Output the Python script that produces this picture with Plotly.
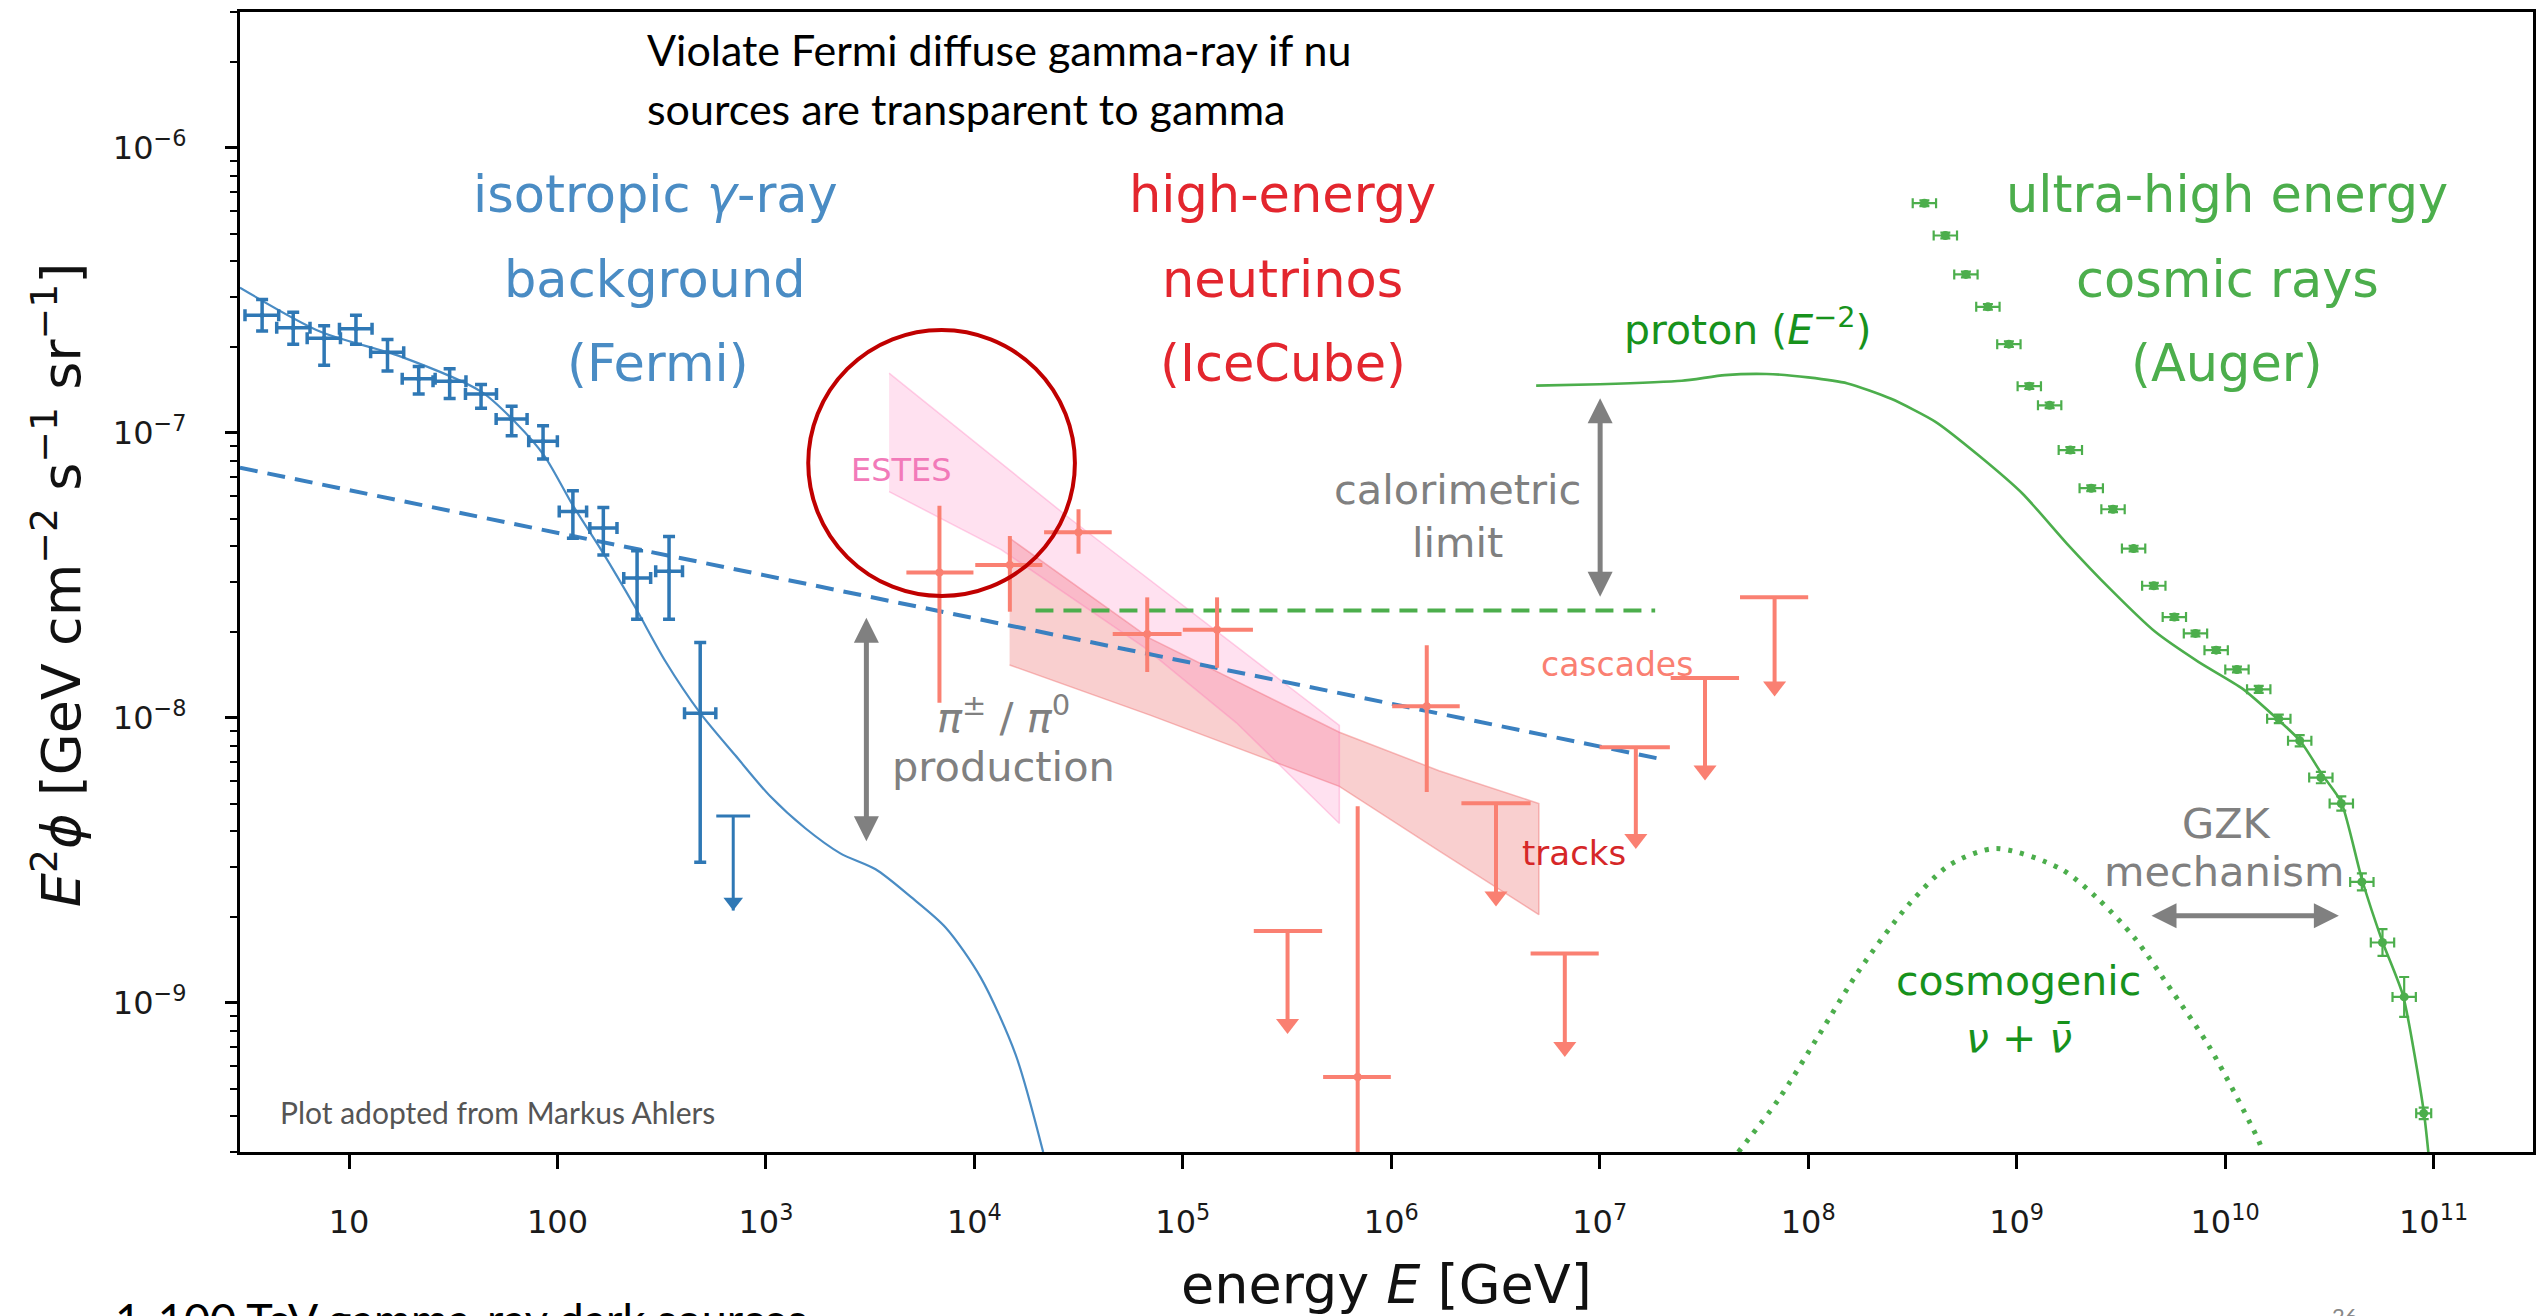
import numpy as np
import plotly.graph_objects as go

# ---------------- data ----------------
# Fermi isotropic gamma-ray background: E [GeV], E^2 phi [GeV cm^-2 s^-1 sr^-1]
fermi_E = [3.83, 5.4, 7.6, 10.8, 15.3, 21.6, 30.4, 43.0, 60.3, 85.3, 118.6, 166.0, 241.0, 343.0, 484.0]
fermi_F = [2.59e-7, 2.34e-7, 2.15e-7, 2.32e-7, 1.92e-7, 1.55e-7, 1.52e-7, 1.37e-7, 1.12e-7, 9.35e-8,
           5.3e-8, 4.64e-8, 3.1e-8, 3.27e-8, 1.04e-8]
fermi_F_lo = [2.28e-7, 2.05e-7, 1.73e-7, 2.05e-7, 1.65e-7, 1.37e-7, 1.32e-7, 1.22e-7, 9.77e-8, 8.11e-8,
              4.27e-8, 3.73e-8, 2.22e-8, 2.22e-8, 3.12e-9]
fermi_F_hi = [2.94e-7, 2.65e-7, 2.38e-7, 2.59e-7, 2.13e-7, 1.71e-7, 1.68e-7, 1.48e-7, 1.24e-7, 1.06e-7,
              6.27e-8, 5.48e-8, 3.86e-8, 4.33e-8, 1.84e-8]
fermi_E_lo = [3.17, 4.5, 6.3, 9.0, 12.7, 18.0, 25.3, 36.2, 50.8, 72.8, 102.0, 143.0, 208.0, 296.0, 407.0]
fermi_E_hi = [4.6, 6.5, 9.1, 12.9, 18.3, 25.9, 36.4, 51.0, 71.5, 99.9, 138.0, 193.0, 280.0, 398.0, 575.0]
fermi_ul_E = [697.0]
fermi_ul_cap = [4.53e-9]
fermi_ul_tip = [2.11e-9]
fermi_ul_E_lo = [578.0]
fermi_ul_E_hi = [840.0]

# Fermi model curve (log10 E, log10 E^2 phi)
fermi_model_logE = [0.477, 0.864, 1.249, 1.634, 1.80, 1.937, 2.074, 2.212, 2.377, 2.517, 2.685, 2.853,
                    3.021, 3.189, 3.357, 3.526, 3.694, 3.862, 4.03, 4.198, 4.33]
fermi_model_logF = [-6.49, -6.645, -6.732, -6.855, -6.964, -7.08, -7.254, -7.413, -7.617, -7.80, -7.983,
                    -8.131, -8.275, -8.387, -8.475, -8.531, -8.627, -8.735, -8.91, -9.181, -9.523]

# pion-production (dashed blue) line
pion_logE = [0.477, 7.30]
pion_logF = [-7.122, -8.145]

# calorimetric limit (dashed green) line
calor_logE = [4.293, 7.266]
calor_logF = [-7.623, -7.623]

# proton (E^-2) model
proton_logE = [6.695, 7.0, 7.394, 7.6, 7.8, 8.0, 8.189, 8.398, 8.609, 8.82, 9.03, 9.241, 9.451, 9.662,
               9.872, 10.083, 10.25, 10.36, 10.467, 10.557, 10.656, 10.755, 10.854, 10.953, 10.975]
proton_logF = [-6.834, -6.829, -6.817, -6.797, -6.793, -6.805, -6.826, -6.88, -6.96, -7.08, -7.214, -7.388,
               -7.549, -7.696, -7.803, -7.897, -8.003, -8.08, -8.2, -8.295, -8.565, -8.785, -8.975, -9.38, -9.523]

# cosmogenic neutrinos (dotted)
cosmo_logE = [7.665, 7.859, 8.053, 8.246, 8.48, 8.68, 8.90, 9.208, 9.388, 9.567, 9.747, 9.928, 10.162, 10.18]
cosmo_logF = [-9.523, -9.337, -9.111, -8.884, -8.657, -8.515, -8.458, -8.528, -8.633, -8.773, -8.96,
              -9.158, -9.485, -9.523]

# Auger UHECR spectrum
auger_E = [3.61e8, 4.55e8, 5.71e8, 7.28e8, 9.18e8, 1.15e9, 1.44e9, 1.81e9, 2.28e9, 2.90e9, 3.64e9, 4.55e9,
           5.71e9, 7.21e9, 9.06e9, 1.14e10, 1.45e10, 1.81e10, 2.28e10, 2.88e10, 3.61e10, 4.53e10, 5.69e10,
           7.23e10, 8.97e10]
auger_F = [6.40e-7, 4.93e-7, 3.60e-7, 2.77e-7, 2.05e-7, 1.46e-7, 1.25e-7, 8.71e-8, 6.40e-8, 5.40e-8, 3.93e-8,
           2.91e-8, 2.26e-8, 1.98e-8, 1.73e-8, 1.48e-8, 1.26e-8, 9.93e-9, 8.32e-9, 6.18e-9, 5.01e-9, 2.66e-9,
           1.63e-9, 1.05e-9, 4.10e-10]
auger_F_err_dex = [0.01, 0.01, 0.01, 0.01, 0.01, 0.01, 0.01, 0.01, 0.01, 0.01, 0.01, 0.01, 0.01, 0.01, 0.01,
                   0.01, 0.012, 0.015, 0.02, 0.02, 0.025, 0.03, 0.047, 0.07, 0.02]
auger_E_err_dex = [0.056, 0.056, 0.056, 0.056, 0.056, 0.056, 0.056, 0.056, 0.056, 0.056, 0.056, 0.056, 0.056,
                   0.056, 0.056, 0.056, 0.056, 0.056, 0.056, 0.056, 0.056, 0.056, 0.056, 0.056, 0.036]

# IceCube cascades (data points)
ic_E = [6.8e3, 1.48e4, 3.16e4, 6.75e4, 1.46e5, 6.9e5, 1.48e6]
ic_F = [3.24e-8, 3.44e-8, 4.48e-8, 1.97e-8, 2.04e-8, 5.5e-10, 1.1e-8]
ic_F_lo = [1.13e-8, 2.36e-8, 3.77e-8, 1.45e-8, 1.5e-8, 1.0e-10, 5.5e-9]
ic_F_hi = [5.56e-8, 4.35e-8, 5.4e-8, 2.65e-8, 2.65e-8, 4.9e-9, 1.8e-8]
ic_E_lo = [4.72e3, 1.01e4, 2.16e4, 4.61e4, 1.0e5, 4.71e5, 1.01e6]
ic_E_hi = [9.9e3, 2.12e4, 4.56e4, 9.86e4, 2.17e5, 9.95e5, 2.13e6]

# IceCube cascades (upper limits)
ul_E = [3.18e5, 3.18e6, 6.8e6, 1.49e7, 3.2e7, 6.9e7]
ul_cap = [1.79e-9, 5.02e-9, 1.49e-9, 7.9e-9, 1.38e-8, 2.65e-8]
ul_tip = [7.78e-10, 2.18e-9, 6.46e-10, 3.47e-9, 6.04e-9, 1.19e-8]
ul_E_lo = [2.19e5, 2.17e6, 4.66e6, 9.98e6, 2.19e7, 4.71e7]
ul_E_hi = [4.66e5, 4.66e6, 9.89e6, 2.17e7, 4.66e7, 1.0e8]

# IceCube tracks band (log10 values)
tracks_top_logE = [4.169, 4.84, 5.751, 6.229, 6.708]
tracks_top_logF = [-7.369, -7.72, -8.05, -8.185, -8.30]
tracks_bot_logE = [4.169, 4.843, 5.751, 6.229, 6.708]
tracks_bot_logF = [-7.814, -7.99, -8.24, -8.466, -8.69]

# ESTES band (log10 values)
estes_top_logE = [3.591, 4.458, 5.751]
estes_top_logF = [-6.79, -7.30, -8.026]
estes_bot_logE = [3.591, 4.128, 4.815, 5.257, 5.751]
estes_bot_logF = [-7.206, -7.409, -7.752, -8.017, -8.37]

# gray double arrows (log10 values): [x0, y0, x1, y1]
arrow_pion = [3.482, -7.648, 3.482, -8.438]
arrow_calor = [7.002, -6.878, 7.002, -7.58]
arrow_gzk = [9.647, -8.694, 10.553, -8.694]

# axis ticks
x_tickvals = [1e1, 1e2, 1e3, 1e4, 1e5, 1e6, 1e7, 1e8, 1e9, 1e10, 1e11]
x_ticktext = ["10", "100", "10<sup>3</sup>", "10<sup>4</sup>", "10<sup>5</sup>", "10<sup>6</sup>",
              "10<sup>7</sup>", "10<sup>8</sup>", "10<sup>9</sup>", "10<sup>10</sup>", "10<sup>11</sup>"]
y_tickvals = [1e-9, 1e-8, 1e-7, 1e-6]
y_ticktext = ["10<sup>−9</sup>", "10<sup>−8</sup>", "10<sup>−7</sup>", "10<sup>−6</sup>"]

# ---------------- styles ----------------
BLUE = "#2f78b5"
BLUE_TXT = "#4a8cc4"
SALMON = "#fa8072"
RED = "#e3262e"
GREEN = "#4cae4c"
DGREEN = "#17921c"
GRAY = "#808080"
DJ = "DejaVu Sans"
SL = "Lato"

W, H = 2539, 1316
X0, X1, Y0, Y1 = 240, 2536, 12, 1152


def px(X):
    return (X - X0) / (X1 - X0)


def py(Y):
    return (Y1 - Y) / (Y1 - Y0)


def pw(v):
    return [10 ** a for a in v]


fig = go.Figure()

# bands
tx = pw(tracks_top_logE + tracks_bot_logE[::-1])
ty = pw(tracks_top_logF + tracks_bot_logF[::-1])
fig.add_trace(go.Scatter(x=tx, y=ty, mode="lines", fill="toself", fillcolor="rgba(240,128,128,0.38)",
                         line=dict(color="rgba(240,110,110,0.45)", width=1.5), hoverinfo="skip"))
ex = pw(estes_top_logE + estes_bot_logE[::-1])
ey = pw(estes_top_logF + estes_bot_logF[::-1])
fig.add_trace(go.Scatter(x=ex, y=ey, mode="lines", fill="toself", fillcolor="rgba(255,105,180,0.2)",
                         line=dict(color="rgba(255,105,180,0.3)", width=1.5), hoverinfo="skip"))

# model lines
fig.add_trace(go.Scatter(x=pw(fermi_model_logE), y=pw(fermi_model_logF), mode="lines",
                         line=dict(color="#4a8cc4", width=2.2, shape="spline", smoothing=0.8)))
fig.add_trace(go.Scatter(x=pw(pion_logE), y=pw(pion_logF), mode="lines",
                         line=dict(color="#3a80c0", width=4, dash="18px,10px")))
fig.add_trace(go.Scatter(x=pw(calor_logE), y=pw(calor_logF), mode="lines",
                         line=dict(color=GREEN, width=4, dash="18px,10px")))
fig.add_trace(go.Scatter(x=pw(proton_logE), y=pw(proton_logF), mode="lines",
                         line=dict(color=GREEN, width=2.6, shape="spline", smoothing=0.6)))
fig.add_trace(go.Scatter(x=pw(cosmo_logE), y=pw(cosmo_logF), mode="lines",
                         line=dict(color=GREEN, width=5, dash="4px,8px", shape="spline", smoothing=0.8)))

# Fermi data
fig.add_trace(go.Scatter(
    x=fermi_E, y=fermi_F, mode="markers",
    marker=dict(color=BLUE, size=5),
    error_x=dict(type="data", symmetric=False,
                 array=[h - e for h, e in zip(fermi_E_hi, fermi_E)],
                 arrayminus=[e - l for e, l in zip(fermi_E, fermi_E_lo)],
                 color=BLUE, thickness=3.5, width=6),
    error_y=dict(type="data", symmetric=False,
                 array=[h - f for h, f in zip(fermi_F_hi, fermi_F)],
                 arrayminus=[f - l for f, l in zip(fermi_F, fermi_F_lo)],
                 color=BLUE, thickness=3.5, width=6)))

# Fermi upper limit
fx, fy = [], []
for e, lo, hi, c, t in zip(fermi_ul_E, fermi_ul_E_lo, fermi_ul_E_hi, fermi_ul_cap, fermi_ul_tip):
    fx += [lo, hi, None, e, e, None]
    fy += [c, c, None, c, t, None]
fig.add_trace(go.Scatter(x=fx, y=fy, mode="lines", line=dict(color=BLUE, width=3)))
fig.add_trace(go.Scatter(x=fermi_ul_E, y=[t * 10 ** 0.03 for t in fermi_ul_tip], mode="markers",
                         marker=dict(symbol="triangle-down", size=17, color=BLUE, line=dict(width=0))))

# IceCube cascades data
fig.add_trace(go.Scatter(
    x=ic_E, y=ic_F, mode="markers",
    marker=dict(color=SALMON, size=8),
    error_x=dict(type="data", symmetric=False,
                 array=[h - e for h, e in zip(ic_E_hi, ic_E)],
                 arrayminus=[e - l for e, l in zip(ic_E, ic_E_lo)],
                 color=SALMON, thickness=4, width=0),
    error_y=dict(type="data", symmetric=False,
                 array=[h - f for h, f in zip(ic_F_hi, ic_F)],
                 arrayminus=[f - l for f, l in zip(ic_F, ic_F_lo)],
                 color=SALMON, thickness=4, width=0)))

# IceCube upper limits
ux, uy = [], []
for e, lo, hi, c, t in zip(ul_E, ul_E_lo, ul_E_hi, ul_cap, ul_tip):
    ux += [lo, hi, None, e, e, None]
    uy += [c, c, None, c, t * 10 ** 0.03, None]
fig.add_trace(go.Scatter(x=ux, y=uy, mode="lines", line=dict(color=SALMON, width=4)))
fig.add_trace(go.Scatter(x=ul_E, y=[t * 10 ** 0.035 for t in ul_tip], mode="markers",
                         marker=dict(symbol="triangle-down", size=20, color=SALMON, line=dict(width=0))))

# Auger data
fig.add_trace(go.Scatter(
    x=auger_E, y=auger_F, mode="markers",
    marker=dict(color=GREEN, size=9),
    error_x=dict(type="data", symmetric=False,
                 array=[e * (10 ** d - 1) for e, d in zip(auger_E, auger_E_err_dex)],
                 arrayminus=[e * (1 - 10 ** -d) for e, d in zip(auger_E, auger_E_err_dex)],
                 color=GREEN, thickness=2.2, width=5),
    error_y=dict(type="data", symmetric=False,
                 array=[f * (10 ** d - 1) for f, d in zip(auger_F, auger_F_err_dex)],
                 arrayminus=[f * (1 - 10 ** -d) for f, d in zip(auger_F, auger_F_err_dex)],
                 color=GREEN, thickness=2.2, width=5)))

annotations = []


def txt(text, X, Y, size, color, family=DJ, xanchor="center", yanchor="middle", angle=0):
    annotations.append(dict(text=text, x=px(X), y=py(Y), xref="paper", yref="paper", showarrow=False,
                            xanchor=xanchor, yanchor=yanchor, textangle=angle,
                            font=dict(size=size, color=color, family=family)))


# gray double arrows
for a in (arrow_pion, arrow_calor, arrow_gzk):
    annotations.append(dict(x=a[0], y=a[1], ax=a[2], ay=a[3], xref="x", yref="y", axref="x", ayref="y",
                            text="", showarrow=True, arrowhead=2, startarrowhead=2, arrowside="end+start",
                            arrowsize=1, startarrowsize=1, arrowwidth=5, arrowcolor=GRAY))

txt("Violate Fermi diffuse gamma-ray if nu", 646, 50, 43, "#000000", SL, xanchor="left")
txt("sources are transparent to gamma", 646, 108, 43, "#000000", SL, xanchor="left")

txt("isotropic <i>γ</i>-ray", 656, 194, 51, BLUE_TXT)
txt("background", 656, 280, 51, BLUE_TXT)
txt("(Fermi)", 659, 364, 51, BLUE_TXT)

txt("high-energy", 1284, 194, 51, RED)
txt("neutrinos", 1284, 280, 51, RED)
txt("(IceCube)", 1284, 364, 51, RED)

txt("ultra-high energy", 2230, 194, 51, GREEN)
txt("cosmic rays", 2230, 280, 51, GREEN)
txt("(Auger)", 2230, 364, 51, GREEN)

txt("proton (<i>E</i><sup>−2</sup>)", 1749, 327, 41, DGREEN)
txt("calorimetric", 1459, 490, 41.5, GRAY)
txt("limit", 1459, 542, 41.5, GRAY)
txt("<i>π</i><sup>±</sup> / <i>π</i><sup>0</sup>", 1004, 715, 41.5, GRAY)
txt("production", 1004, 766, 41.5, GRAY)
txt("GZK", 2230, 823, 41.5, GRAY)
txt("mechanism", 2227, 871, 41.5, GRAY)
txt("cosmogenic", 2021, 981, 41, DGREEN)
txt("<i>ν</i> + <i>ν̄</i>", 2021, 1038, 41, DGREEN)
txt("cascades", 1619, 664, 33, SALMON)
txt("tracks", 1576, 853, 34, "#d62728")
txt("ESTES", 902, 470, 32, "#f27ab9")
txt("Plot adopted from Markus Ahlers", 278, 1112, 30, "#555555", SL, xanchor="left")

# axis titles
txt("<i>E</i><sup>2</sup><i>ϕ</i> [GeV cm<sup>−2</sup> s<sup>−1</sup> sr<sup>−1</sup>]", 57, 585, 54, "#111111",
    angle=-90)
txt("energy <i>E</i> [GeV]", 1388, 1284, 54, "#111111")

# slide text cut at the bottom
txt("1-100 TeV gamma-ray dark sources", 113, 1290, 45, "#000000", SL, xanchor="left", yanchor="top")
txt("26", 2348, 1300, 22, "#888888", SL, yanchor="top")

fig.update_layout(
    width=W, height=H,
    margin=dict(l=X0, r=W - X1, t=Y0, b=H - Y1, pad=0),
    paper_bgcolor="white", plot_bgcolor="white",
    showlegend=False,
    annotations=annotations,
    shapes=[dict(type="circle", xref="paper", yref="paper",
                 x0=px(809), x1=px(1076), y0=py(596), y1=py(330),
                 line=dict(color="#c00000", width=4))],
    xaxis=dict(type="log", range=[np.log10(3), np.log10(3e11)], showgrid=False, zeroline=False,
               showline=True, linecolor="black", linewidth=3, mirror=True,
               ticks="outside", ticklen=14, tickwidth=2.5, tickcolor="black",
               tickmode="array", tickvals=x_tickvals, ticktext=x_ticktext,
               tickfont=dict(family=DJ, size=32, color="#1a1a1a"), ticklabelstandoff=26),
    yaxis=dict(type="log", range=[np.log10(3e-10), np.log10(3e-6)], showgrid=False, zeroline=False,
               showline=True, linecolor="black", linewidth=3, mirror=True,
               ticks="outside", ticklen=12, tickwidth=2.5, tickcolor="black",
               tickmode="array", tickvals=y_tickvals, ticktext=y_ticktext,
               tickfont=dict(family=DJ, size=32, color="#1a1a1a"), ticklabelstandoff=32,
               minor=dict(ticks="outside", ticklen=7, tickwidth=1.8, tickcolor="black", tickmode="array",
                          tickvals=[m * 10.0 ** d for d in range(-10, -5) for m in range(2, 10)
                                    if 3e-10 <= m * 10.0 ** d <= 3e-6],
                          showgrid=False)),
)

fig.write_html("out.html")
